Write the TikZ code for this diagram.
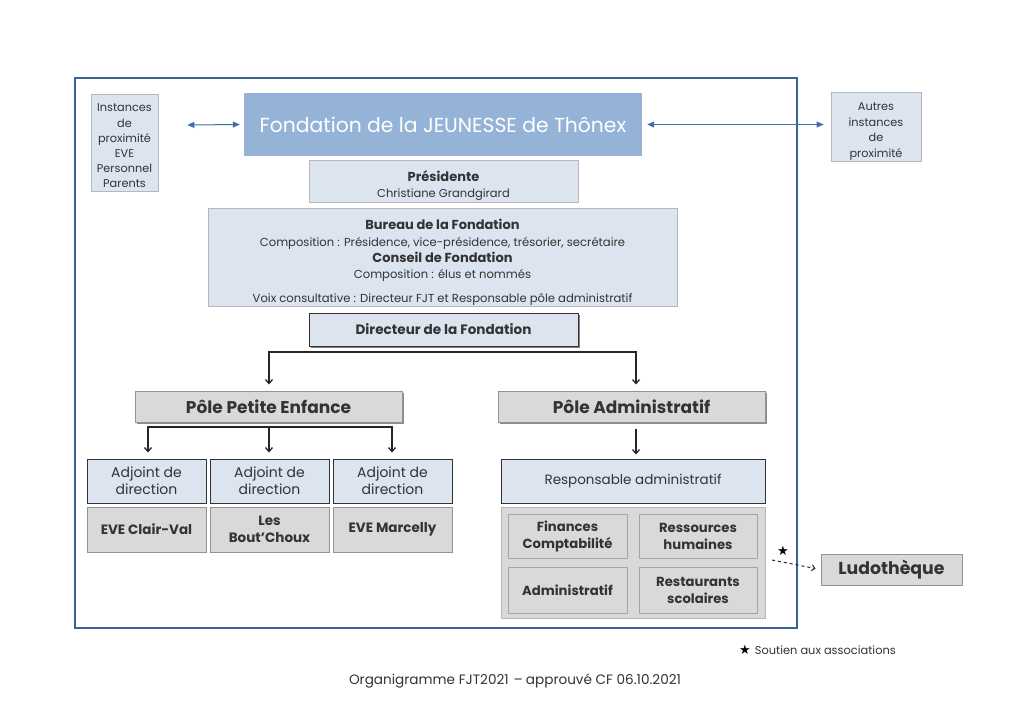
\documentclass[tikz,border=0pt]{standalone}
\usepackage{fontspec}
\setmainfont{Poppins}
\newfontfamily\symfont{DejaVu Sans}
\usetikzlibrary{arrows.meta,calc}
\definecolor{frameblue}{HTML}{3A6590}
\definecolor{lightblue}{HTML}{DCE4F0}
\definecolor{midblue}{HTML}{95B3D7}
\definecolor{boxgray}{HTML}{D9D9D9}
\definecolor{edgegray}{HTML}{B4B8BD}
\definecolor{txt}{HTML}{333333}
\definecolor{arrowblue}{HTML}{3D6FA8}
\tikzset{
  lbox/.style={draw=edgegray, line width=0.8pt, fill=lightblue, text=txt, align=center, inner sep=1pt},
  dbox/.style={draw=black!80, line width=1pt, fill=lightblue, text=txt, align=center, inner sep=1pt},
  gbox/.style={draw=edgegray!80!black, line width=1pt, fill=boxgray, text=txt, align=center, inner sep=1pt, font=\bfseries},
  conn/.style={line width=1.3pt, black!85, -{Straight Barb[length=4pt,width=7pt]}},
  bconn/.style={line width=1pt, arrowblue, {Triangle[length=7pt,width=6pt]}-{Triangle[length=7pt,width=6pt]}},
}
\begin{document}
\begin{tikzpicture}[x=1pt,y=-1pt]
\useasboundingbox (0,0) rectangle (1024,724);
\fill[white] (0,0) rectangle (1024,724);
\draw[frameblue, line width=2.5pt] (75,78) rectangle (797,628);

\node[lbox, minimum width=67, minimum height=97, font=\fontsize{11.3}{15.2}\selectfont] (inst) at (124.5,142.5) {\rule{0pt}{15pt}Instances\\de\\proximité\\EVE\\Personnel\\Parents};
\node[draw=none, fill=midblue, minimum width=398, minimum height=63, text=white, font=\fontsize{20.3}{24}\selectfont] (fond) at (443,124.5) {Fondation de la JEUNESSE de Thônex};
\node[lbox, minimum width=90, minimum height=68, font=\fontsize{11.3}{15.7}\selectfont] (autres) at (876,127) {\rule{0pt}{17pt}Autres\\instances\\de\\proximité};

\draw[bconn] ($(inst.east)+(29,-17.5)$) -- ($(fond.west)+(-4,0)$);
\draw[bconn] ($(fond.east)+(5,0)$) -- ($(autres.west)+(-7,-2.5)$);

\node[lbox, minimum width=269, minimum height=42, font=\fontsize{11.5}{16}\selectfont] (pres) at (443.5,181) {\rule{0pt}{20pt}{\fontsize{13}{15}\selectfont\bfseries Présidente}\\{\fontsize{11.5}{13}\selectfont Christiane Grandgirard}};
\node[lbox, minimum width=469, minimum height=98, font=\fontsize{11.6}{16.3}\selectfont] (bureau) at (442.5,257)
 {\rule{0pt}{21pt}{\fontsize{13}{15}\selectfont\bfseries Bureau de la Fondation}\\
  {\fontsize{11.6}{13}\selectfont Composition : Présidence, vice-présidence, trésorier, secrétaire}\\
  {\fontsize{13}{15}\selectfont\bfseries Conseil de Fondation}\\
  {\fontsize{11.6}{13}\selectfont Composition : élus et nommés}\\[7pt]
  {\fontsize{11.6}{13}\selectfont Voix consultative : Directeur FJT et Responsable pôle administratif}};
\fill[black!50] (311,315) rectangle (580,348);
\node[dbox, minimum width=269, minimum height=33, font=\fontsize{13.6}{16}\selectfont\bfseries] (dir) at (443.5,329.5) {Directeur de la Fondation};

\fill[black!45] (137,393) rectangle (404,424);
\node[gbox, minimum width=267, minimum height=31, font=\fontsize{17}{20}\selectfont\bfseries] (ppe) at (268.5,406.5) {Pôle Petite Enfance};
\fill[black!45] (500,393) rectangle (767,424);
\node[gbox, minimum width=267, minimum height=31, font=\fontsize{17}{20}\selectfont\bfseries] (pa) at (631.5,406.5) {Pôle Administratif};

\coordinate (split) at (443,352);
\draw[conn] (split) -| ($(ppe.north)+(0.5,-6)$);
\draw[conn] (split) -| ($(pa.north)+(4.5,-6)$);

\node[dbox, minimum width=119, minimum height=44, font=\fontsize{14}{17}\selectfont] (adj1) at (146.5,481) {Adjoint de\\direction};
\node[dbox, minimum width=119, minimum height=44, font=\fontsize{14}{17}\selectfont] (adj2) at (269.5,481) {Adjoint de\\direction};
\node[dbox, minimum width=119, minimum height=44, font=\fontsize{14}{17}\selectfont] (adj3) at (392.5,481) {Adjoint de\\direction};
\node[gbox, minimum width=119, minimum height=45, font=\fontsize{13.5}{17}\selectfont\bfseries] (eve1) at (146.5,529.5) {EVE Clair-Val};
\node[gbox, minimum width=119, minimum height=45, font=\fontsize{13.5}{17}\selectfont\bfseries] (eve2) at (269.5,529.5) {Les\\Bout'Choux};
\node[gbox, minimum width=119, minimum height=45, font=\fontsize{13.5}{17}\selectfont\bfseries] (eve3) at (392.5,529.5) {EVE Marcelly};

\coordinate (split2) at (269,427);
\draw[conn] (split2) -| ($(adj1.north)+(1.5,-6)$);
\draw[conn] (split2) -- ($(adj2.north)+(-0.5,-6)$);
\draw[conn] (split2) -| ($(adj3.north)+(-0.5,-6)$);

\node[dbox, minimum width=264, minimum height=44, font=\fontsize{13.5}{16}\selectfont] (resp) at (633,481) {Responsable administratif};
\draw[conn] ($(pa.south)+(4.5,6)$) -- ($(resp.north)+(3,-4)$);
\node[draw=edgegray, line width=1pt, fill=boxgray, minimum width=264, minimum height=111] (cont) at (633,562.5) {};
\node[gbox, draw=edgegray!90!black, minimum width=119, minimum height=44, font=\fontsize{13.2}{17}\selectfont\bfseries] (fin) at (567.5,536) {Finances\\Comptabilité};
\node[gbox, draw=edgegray!90!black, minimum width=118, minimum height=44, font=\fontsize{13.2}{17}\selectfont\bfseries] (rh) at (698,536) {Ressources\\humaines};
\node[gbox, draw=edgegray!90!black, minimum width=119, minimum height=46, font=\fontsize{13.2}{17}\selectfont\bfseries] (adm) at (567.5,590) {Administratif};
\node[gbox, draw=edgegray!90!black, minimum width=118, minimum height=46, font=\fontsize{13.2}{17}\selectfont\bfseries] (rest) at (698,590) {Restaurants\\scolaires};

\node[gbox, minimum width=141, minimum height=31, font=\fontsize{17.3}{20}\selectfont\bfseries] (ludo) at (891.5,569.5) {Ludothèque};
\coordinate (dstart) at (772,560);
\draw[line width=1pt, black!85, dashed, -{Straight Barb[length=3pt,width=6pt]}] (dstart) -- ($(ludo.west)+(-5,-1)$);
\node[font=\symfont\fontsize{13}{13}\selectfont, inner sep=0pt] (star) at (783,551) {★};

\node[anchor=west, text=txt, font=\fontsize{11.4}{13}\selectfont, inner sep=0pt] (note) at (739,650) {{\symfont\fontsize{13}{13}\selectfont\color{black}★}\hspace{4pt}Soutien aux associations};
\node[text=txt, font=\fontsize{13.6}{16}\selectfont] (footer) at (515,681) {Organigramme FJT2021\hspace{5pt}–\hspace{3pt}approuvé CF 06.10.2021};
\end{tikzpicture}
\end{document}
